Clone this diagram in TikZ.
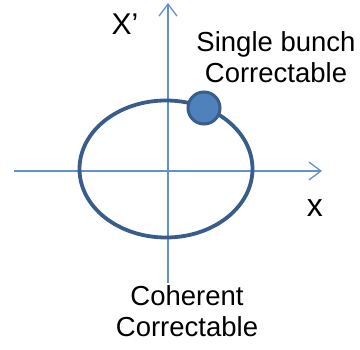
\documentclass[tikz,border=0pt]{standalone}
\usepackage{fontspec}
\setmainfont{Liberation Sans}
\usepackage{xcolor}
\usetikzlibrary{arrows.meta}
\definecolor{axisblue}{RGB}{98,145,205}
\definecolor{orbitblue}{RGB}{56,93,138}
\definecolor{bunchblue}{RGB}{79,129,189}

\begin{document}
\begin{tikzpicture}[
    x=1pt, y=-1pt,
    >={Straight Barb[length=12pt,width=18pt,line width=1.3pt]},
    every node/.style={inner sep=0pt},
    axis/.style={->, draw=axisblue, line width=1.3pt},
    orbit/.style={draw=orbitblue, line width=3.8pt},
    bunch/.style={circle, draw=orbitblue, fill=bunchblue, line width=3pt, minimum size=32pt},
    lbl/.style={font=\fontsize{27.5}{31.5}\selectfont, align=center, anchor=base},
    axlbl/.style={font=\fontsize{30}{34}\selectfont, anchor=base}
]
\useasboundingbox (0,0) rectangle (360,350);

% --- Axes ---
\coordinate (xl) at (14,171);
\coordinate (xr) at (322,171);
\coordinate (yb) at (168,283);
\coordinate (yt) at (168,3);
\draw[axis] (xl) -- (xr);
\draw[axis] (yb) -- (yt);

% --- Orbit and bunch ---
\draw[orbit] (166,169) ellipse [x radius=86.5, y radius=68.5];
\node[bunch] (single) at (204,108) {};

% --- Labels ---
\node[axlbl] (xp) at (125,35) {X’};
\node[axlbl, font=\fontsize{32}{36}\selectfont] (xlab) at (315,217) {x};
\node[lbl] (sb) at (276,83) {Single bunch\\Correctable};
\node[lbl] (coh) at (187,337) {Coherent\\Correctable};
\end{tikzpicture}
\end{document}
